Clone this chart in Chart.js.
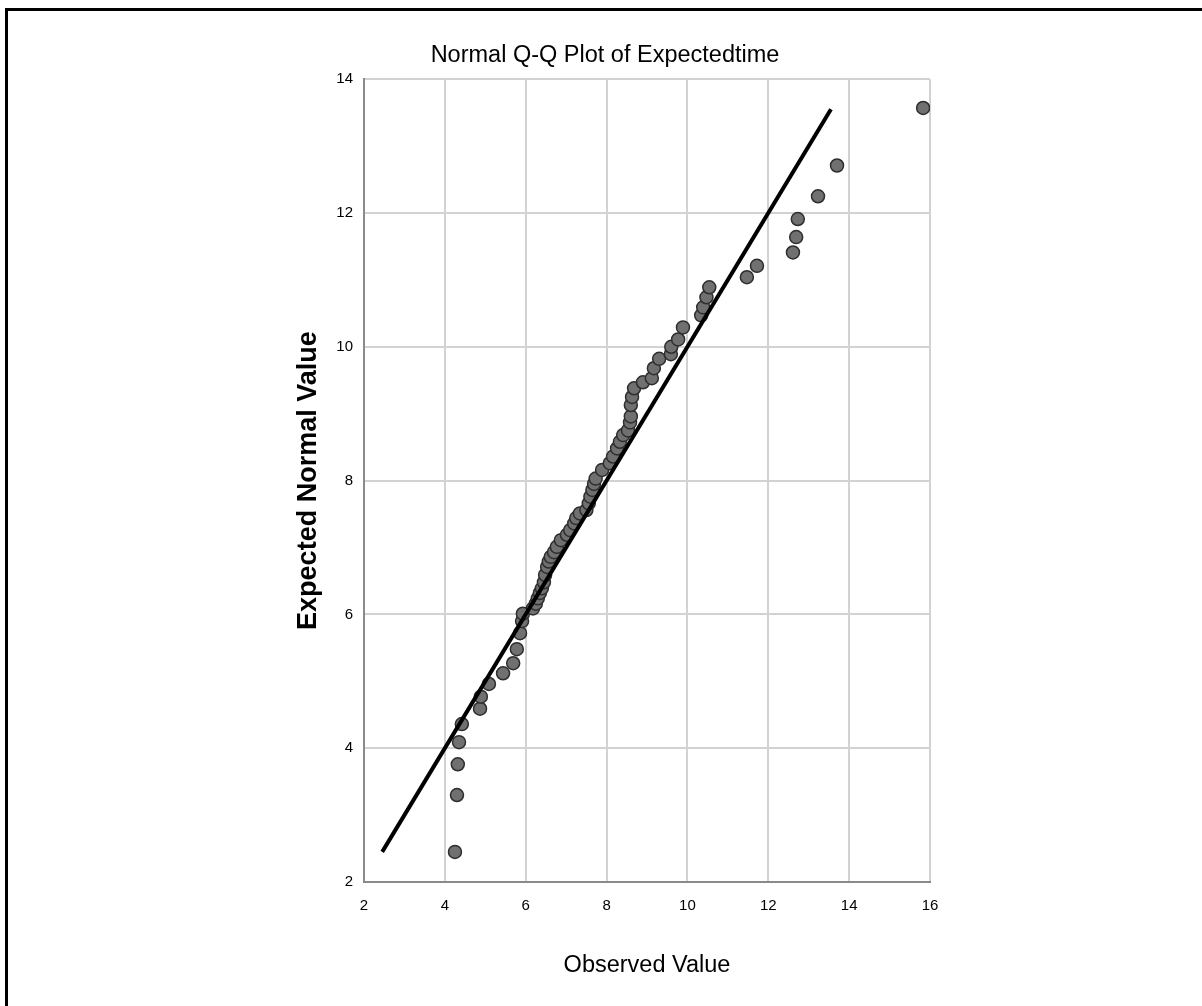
<!DOCTYPE html>
<html>
<head>
<meta charset="utf-8">
<title>Normal Q-Q Plot of Expectedtime</title>
<script src="https://cdn.jsdelivr.net/npm/chart.js@4"></script>
<style>
  html, body { margin: 0; padding: 0; background: #fff; overflow: hidden; }
  #wrap { position: relative; width: 1202px; height: 1006px; }
  #frame { position: absolute; left: 5px; top: 8px; width: 1400px; height: 1200px;
           border-top: 3px solid #000; border-left: 3px solid #000; pointer-events: none; }
</style>
</head>
<body>
<div id="wrap">
  <canvas id="qq-chart"></canvas>
  <div id="frame"></div>
</div>
<script>
const observed = [
  4.25, 4.30, 4.32, 4.35, 4.42, 4.87, 4.89, 5.09, 5.44, 5.69,
  5.78, 5.86, 5.91, 5.93, 6.18, 6.25, 6.30, 6.35, 6.40, 6.45,
  6.48, 6.53, 6.57, 6.62, 6.70, 6.77, 6.87, 7.02, 7.10, 7.20,
  7.25, 7.34, 7.50, 7.56, 7.60, 7.65, 7.69, 7.73, 7.89, 8.08,
  8.16, 8.26, 8.33, 8.41, 8.53, 8.58, 8.60, 8.60, 8.63, 8.68,
  8.90, 9.12, 9.17, 9.30, 9.59, 9.60, 9.77, 9.89, 10.34, 10.39,
  10.47, 10.54, 11.47, 11.72, 12.61, 12.69, 12.73, 13.23, 13.70, 15.83
];
const expectedNormal = [
  2.45, 3.30, 3.76, 4.09, 4.36, 4.59, 4.77, 4.96, 5.12, 5.27,
  5.48, 5.72, 5.90, 6.01, 6.09, 6.16, 6.24, 6.32, 6.39, 6.48,
  6.59, 6.71, 6.79, 6.86, 6.93, 7.01, 7.11, 7.19, 7.26, 7.36,
  7.44, 7.51, 7.56, 7.66, 7.76, 7.86, 7.95, 8.03, 8.16, 8.26,
  8.36, 8.48, 8.58, 8.68, 8.75, 8.87, 8.96, 9.13, 9.25, 9.38,
  9.47, 9.53, 9.68, 9.82, 9.89, 10.00, 10.11, 10.29, 10.47, 10.59,
  10.74, 10.89, 11.04, 11.21, 11.41, 11.64, 11.91, 12.25, 12.71, 13.57
];
// reference line y = x
const refLine = [2.45, 13.55];

const xTicks = [2, 4, 6, 8, 10, 12, 14, 16];
const yTicks = [2, 4, 6, 8, 10, 12, 14];

const FONT = "'Liberation Sans', Arial, sans-serif";

const points = observed.map((x, i) => ({ x: x, y: expectedNormal[i] }));
const linePts = refLine.map(v => ({ x: v, y: v }));

const ctx = document.getElementById('qq-chart');
new Chart(ctx, {
  type: 'scatter',
  data: {
    datasets: [
      {
        type: 'line',
        data: linePts,
        borderColor: '#000',
        borderWidth: 4,
        pointRadius: 0,
        fill: false,
        order: 0
      },
      {
        data: points,
        backgroundColor: '#707070',
        borderColor: '#2e2e2e',
        borderWidth: 1.5,
        pointRadius: 6.5,
        order: 1
      }
    ]
  },
  options: {
    responsive: true,
    maintainAspectRatio: false,
    animation: false,
    layout: { padding: { left: 280, right: 272, top: 0, bottom: 0 } },
    plugins: {
      legend: { display: false },
      tooltip: { enabled: false },
      title: {
        display: true,
        text: 'Normal Q-Q Plot of Expectedtime',
        color: '#000',
        font: { family: FONT, size: 23.5, weight: 'normal' },
        padding: { top: 41, bottom: 10 }
      }
    },
    scales: {
      x: {
        type: 'linear',
        min: 2,
        max: 16,
        afterBuildTicks: s => { s.ticks = xTicks.map(v => ({ value: v })); },
        afterFit: s => { s.height = 124; },
        grid: { color: '#d2d2d2', lineWidth: 2, drawTicks: false },
        border: { color: '#8a8a8a', width: 2 },
        ticks: { color: '#000', padding: 15, font: { family: FONT, size: 15 } },
        title: {
          display: true,
          text: 'Observed Value',
          color: '#000',
          font: { family: FONT, size: 23.5, weight: 'normal' },
          padding: { top: 0, bottom: 26 }
        }
      },
      y: {
        type: 'linear',
        min: 2,
        max: 14,
        afterBuildTicks: s => { s.ticks = yTicks.map(v => ({ value: v })); },
        afterFit: s => { s.width = 84; },
        grid: { color: '#d2d2d2', lineWidth: 2, drawTicks: false },
        border: { color: '#8a8a8a', width: 2 },
        ticks: { color: '#000', padding: 11, font: { family: FONT, size: 15 } },
        title: {
          display: true,
          text: 'Expected Normal Value',
          color: '#000',
          font: { family: FONT, size: 27, weight: 'bold' },
          padding: { top: 12, bottom: 0 }
        }
      }
    }
  }
});
</script>
</body>
</html>
